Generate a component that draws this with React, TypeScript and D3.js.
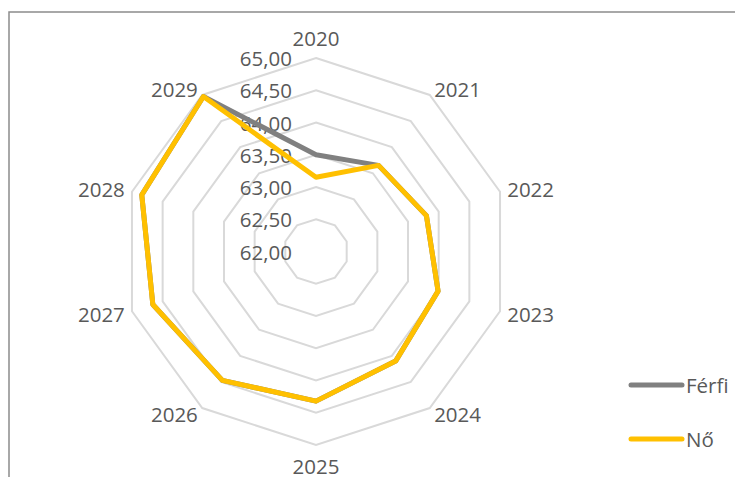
import React from "react";
import * as d3 from "d3";

const years = ["2020", "2021", "2022", "2023", "2024", "2025", "2026", "2027", "2028", "2029"];
const ferfi = [63.5, 63.65, 63.8, 63.99, 64.1, 64.32, 64.47, 64.66, 64.84, 64.97];
const no = [63.15, 63.65, 63.8, 63.99, 64.1, 64.32, 64.47, 64.66, 64.84, 64.97];
const ticks = [62.0, 62.5, 63.0, 63.5, 64.0, 64.5, 65.0];
const seriesNames = ["Férfi", "Nő"];
const seriesColors = ["#808080", "#FFC000"];

const W = 735;
const H = 477;
const cx = 316;
const cy = 251.5;
const R = 193.5;
const FONT = "'Open Sans', sans-serif";
const FS = 20.5;

export default function App() {
  const r = d3.scaleLinear().domain([62, 65]).range([0, R]);
  const angle = d3
    .scaleLinear()
    .domain([0, years.length])
    .range([0, 2 * Math.PI]);
  const pt = (i: number, v: number): [number, number] => {
    const a = angle(i);
    const rr = r(v);
    return [cx + rr * Math.sin(a), cy - rr * Math.cos(a)];
  };
  const closed = d3.line<[number, number]>().curve(d3.curveLinearClosed);

  const rings = ticks.slice(1).map((t) => closed(years.map((_, i) => pt(i, t))) as string);

  const series = [ferfi, no];

  const labelR = 201;
  return (
    <svg
      width={W}
      height={H}
      style={{ position: "absolute", left: 0, top: 0, background: "#fff" }}
    >
      <rect x={9} y={12} width={W + 20} height={H + 20} fill="#fff" stroke="#8c8c8c" strokeWidth={1.5} />
      {rings.map((d, i) => (
        <path key={i} d={d} fill="none" stroke="#D9D9D9" strokeWidth={2} />
      ))}
      {ticks.map((t) => (
        <text
          key={t}
          x={292}
          y={cy - r(t)}
          textAnchor="end"
          dominantBaseline="central"
          fontFamily={FONT}
          fontSize={FS}
          fill="#595959"
        >
          {d3.format(".2f")(t).replace(".", ",")}
        </text>
      ))}
      {years.map((y, i) => {
        const a = angle(i);
        const s = Math.sin(a);
        const c = Math.cos(a);
        const x = cx + labelR * s;
        let yy = cy - labelR * c;
        let anchor = "middle";
        if (s > 0.1) anchor = "start";
        else if (s < -0.1) anchor = "end";
        if (Math.abs(s) < 0.1) yy += c > 0 ? -13 : 13;
        return (
          <text
            key={y}
            x={x}
            y={yy}
            textAnchor={anchor}
            dominantBaseline="central"
            fontFamily={FONT}
            fontSize={FS}
            fill="#595959"
          >
            {y}
          </text>
        );
      })}
      {series.map((vals, k) => (
        <path
          key={k}
          d={closed(vals.map((v, i) => pt(i, v))) as string}
          fill="none"
          stroke={seriesColors[k]}
          strokeWidth={5}
          strokeLinejoin="round"
        />
      ))}
      {seriesNames.map((n, k) => {
        const ly = 385 + k * 54;
        return (
          <g key={n}>
            <line x1={631} x2={682} y1={ly} y2={ly} stroke={seriesColors[k]} strokeWidth={5} strokeLinecap="round" />
            <text x={686} y={ly} dominantBaseline="central" fontFamily={FONT} fontSize={FS} fill="#595959">
              {n}
            </text>
          </g>
        );
      })}
    </svg>
  );
}
